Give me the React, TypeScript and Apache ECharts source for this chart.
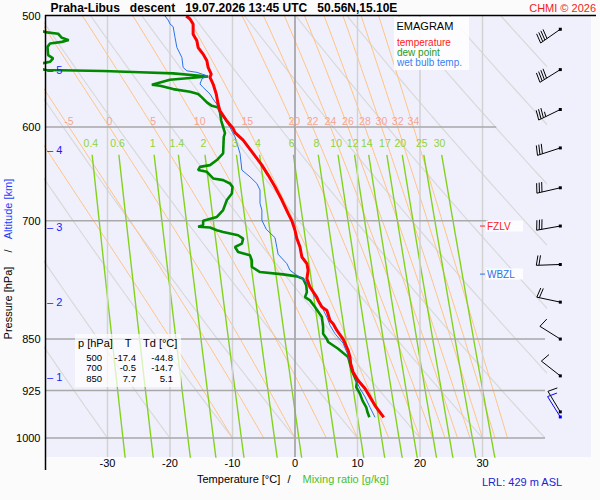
import React, { useEffect, useRef } from "react";
import * as echarts from "echarts";

const FONT = "'Liberation Sans', Arial, Helvetica, sans-serif";

// ---- axis ranges / furniture values ----
const T_MIN = -40;
const T_MAX = 40;
const P_TOP = 500;
const P_BOTTOM = 1031.7;
const TEMP_TICKS = [-30, -20, -10, 0, 10, 20, 30];
const PRESSURE_TICKS = [500, 600, 700, 850, 925, 1000];
const ISOBARS = [600, 700, 850, 925, 1000];
const ISOBAR_RIGHT_T = [32.2, 30.9, 40, 40, 40];
const DRY_THETA = [-30, -20, -10, 0, 10, 20, 30, 40, 50, 60, 70, 80, 90, 100];
const MOIST_THETAW = [-10, -5, 0, 5, 10, 15, 20, 22, 24, 26, 28, 30, 32, 34];
const MIXING_RATIOS = [0.4, 0.6, 1, 1.4, 2, 3, 4, 6, 8, 10, 12, 14, 17, 20, 25, 30];
const MIX_TOP_P = 628;
const MIX_LABEL_P = 615.5;
const MOIST_LABEL_P = 600;
const MOIST_LABEL_TEXT_P = 594;

// ---- sounding: [pressure hPa, value degC] ----
const TEMPERATURE: [number, number][] = [
  [500, -17.4], [502.5, -16.8], [506.6, -16.3], [515.2, -16.3], [520.8, -15.7], [526.6, -15.5],
  [532.3, -14.7], [538.2, -14.1], [544.1, -13.9], [550.0, -13.4], [553.0, -13.6], [559.1, -13.1],
  [568.4, -12.6], [577.9, -12.3], [584.3, -12.0], [594.1, -10.9], [601.5, -9.9], [605.5, -9.6],
  [613.1, -8.3], [626.6, -6.7], [638.8, -5.3], [649.3, -4.3], [661.9, -3.2], [676.5, -2.1],
  [691.5, -1.1], [700, -0.5], [710.9, 0.0], [720.7, 0.3], [730.7, 0.8], [742.8, 1.1],
  [750.9, 1.9], [759.3, 2.1], [769.8, 1.9], [780.6, 2.4], [793.6, 3.5], [797.7, 3.7],
  [806.5, 4.3], [810.9, 5.1], [824.4, 5.6], [828.8, 6.1], [838.0, 6.7], [850, 7.7],
  [866.0, 8.5], [875.6, 8.8], [884.8, 8.9], [897.6, 9.3], [909.9, 10.1], [922.0, 11.2],
  [934.7, 12.0], [948.2, 12.8], [958.7, 13.6], [966.6, 14.2],
];
const DEW_POINT: [number, number][] = [
  [500, -44.8], [510, -42.0], [513.4, -40.0], [514.8, -37.9], [518.2, -37.3], [520.2, -36.2],
  [521.7, -37.3], [523.1, -39.2], [526.0, -39.6], [533.2, -39.5], [536.1, -38.7], [539.1, -39.2],
  [539.6, -39.7], [543, -43.0], [546.4, -39.8], [547.3, -30.7], [548.4, -24.8], [549.4, -19.5],
  [551.5, -15.2], [552.3, -13.9], [553.6, -16.8], [555.2, -20.0], [559.8, -22.9], [560.7, -21.6],
  [563.8, -19.5], [566.3, -16.8], [568.4, -15.5], [571.5, -14.9], [576.2, -14.1], [579.5, -13.3],
  [581.0, -12.3], [585.8, -12.0], [593.9, -11.8], [600, -11.5], [606, -11.2], [610, -11.4],
  [626.6, -11.5], [633.5, -12.5], [638.8, -13.6], [640.6, -15.2], [644.0, -15.5], [645.8, -14.1],
  [652.9, -13.1], [654.7, -11.5], [658.3, -10.4], [662.0, -10.0], [669.3, -10.1], [676.5, -10.9],
  [687.7, -11.5], [695.5, -12.5], [700, -14.7], [705.1, -14.7], [706.8, -15.5], [707.7, -13.6],
  [710.9, -12.5], [712.9, -11.5], [716.8, -9.1], [720.7, -8.3], [726.7, -8.5], [730.7, -9.6],
  [736.8, -9.1], [740.8, -7.2], [746.9, -6.9], [755.1, -6.9], [761.4, -5.6], [764.3, -1.9],
  [766.8, 0.3], [769.8, 1.3], [778.3, 1.8], [786.9, 1.9], [793.4, 1.6], [797.7, 2.4],
  [806.5, 3.2], [819.9, 4.3], [833.5, 4.5], [842.6, 4.5], [850, 5.1], [854.1, 5.3],
  [863.6, 6.9], [875.6, 8.5], [884.8, 8.8], [895.0, 9.1], [912.4, 9.9], [920.0, 9.8],
  [930.1, 10.4], [940.4, 10.8], [950.8, 11.4], [958.7, 11.6], [966.6, 11.9],
];
const WET_BULB: [number, number][] = [
  [500, -20.8], [503.3, -20.3], [506.6, -20.0], [508.8, -19.5], [517.8, -19.2], [526.5, -18.9],
  [535.3, -18.1], [544.1, -17.9], [547.1, -17.3], [548.5, -15.7], [551.5, -14.1], [554.5, -14.9],
  [559.1, -15.2], [562.2, -14.7], [568.4, -13.6], [573.1, -13.1], [577.9, -12.5], [582.7, -12.3],
  [590.7, -11.5], [600.4, -10.4], [609.8, -9.6], [626.6, -8.8], [644.0, -8.5], [651.2, -7.2],
  [658.4, -6.1], [665.5, -5.6], [680.2, -5.6], [687.7, -5.3], [699.3, -5.3], [709.7, -4.6],
  [719.6, -3.2], [731.5, -2.9], [739.5, -2.7], [751.0, -1.3], [759.3, -0.8], [765.5, 0.3],
  [771.9, 1.6], [780.6, 2.4], [793.6, 3.2], [806.5, 4.3], [819.9, 5.1], [831.1, 5.6],
  [842.6, 6.4], [855.9, 7.7], [873.1, 8.5], [884.8, 8.8], [903.9, 9.6], [912.4, 9.9],
  [922.0, 10.4], [934.7, 11.2], [950.8, 12.0], [966.6, 12.8],
];

// ---- winds ----
const WIND_P = [511, 546, 583, 621, 663, 706, 752, 800, 850, 903, 958];
const WIND_DIR = [235, 238, 244, 252, 257, 260, 268, 282, 302, 308, 329];
const WIND_KT = [40, 40, 35, 30, 30, 30, 20, 20, 10, 10, 10];
const SFC_WIND_P = [966];
const SFC_WIND_DIR = [328];
const SFC_WIND_KT = [10];

// ---- levels / table ----
const ALT_KM = [1, 2, 3, 4, 5];
const ALT_P = [904, 800, 707, 623, 546];
const FZLV_P = 706;
const WBZL_P = 764;
const TABLE_P = [500, 700, 850];
const TABLE_T = [-17.4, -0.5, 7.7];
const TABLE_TD = [-44.8, -14.7, 5.1];

const TITLE = "Praha-Libus   descent   19.07.2026 13:45 UTC   50.56N,15.10E";

// ---- thermodynamics for the background lines ----
const Rd = 287.04, Cp = 1005.7, Lv = 2.501e6, EPS = 0.622;
const es = (tc: number) => 6.112 * Math.exp((17.67 * tc) / (tc + 243.5));
function dTdp(TK: number, p: number) {
  const e = es(TK - 273.15);
  const rs = (EPS * e) / (p - e);
  const num = Rd * TK + Lv * rs;
  const den = Cp + (Lv * Lv * rs * EPS) / (Rd * TK * TK);
  return num / den / p;
}
function moistPath(tw: number): [number, number][] {
  const pts: [number, number][] = [[tw, 1000]];
  let T = tw + 273.15;
  let p = 1000;
  const dp = -5;
  while (p > P_TOP + 0.01) {
    const k1 = dTdp(T, p);
    const k2 = dTdp(T + (k1 * dp) / 2, p + dp / 2);
    const k3 = dTdp(T + (k2 * dp) / 2, p + dp / 2);
    const k4 = dTdp(T + k3 * dp, p + dp);
    T += (dp * (k1 + 2 * k2 + 2 * k3 + k4)) / 6;
    p += dp;
    pts.push([T - 273.15, p]);
  }
  return pts;
}
function dryPath(th: number): [number, number][] {
  const pts: [number, number][] = [];
  for (let p = 1000; p >= P_TOP - 0.01; p -= 10) {
    pts.push([(th + 273.15) * Math.pow(p / 1000, 0.2857) - 273.15, p]);
  }
  return pts;
}
function mixT(w: number, p: number) {
  const e = (w * p) / (622 + w);
  const l = Math.log(e / 6.112);
  return (243.5 * l) / (17.67 - l);
}
function mixPath(w: number): [number, number][] {
  const pts: [number, number][] = [];
  for (let p = MIX_TOP_P; p <= P_BOTTOM + 10; p += 10) pts.push([mixT(w, p), Math.min(p, P_BOTTOM + 5)]);
  return pts;
}

const bgLine = (data: any[], color: string, width: number, z = 1) => ({
  type: "line",
  data,
  showSymbol: false,
  silent: true,
  animation: false,
  z,
  lineStyle: { color, width },
  xAxisIndex: 0,
  yAxisIndex: 0,
});

function barbRender(color: string) {
  return (params: any, api: any) => {
    const [sx, sy] = api.coord([api.value(0), api.value(1)]);
    const dir = (api.value(2) * Math.PI) / 180;
    const kt = api.value(3);
    const L = 24;
    const ux = Math.sin(dir), uy = -Math.cos(dir);
    const tx = sx + ux * L, ty = sy + uy * L;
    const px = -uy, py = ux;
    let fx = px - ux * 0.2, fy = py - uy * 0.2;
    const n = Math.hypot(fx, fy);
    fx /= n; fy /= n;
    const st = { stroke: color, lineWidth: 1 };
    const children: any[] = [
      { type: "line", shape: { x1: sx, y1: sy, x2: tx, y2: ty }, style: st },
    ];
    let rem = kt, pos = 0;
    while (rem >= 10) {
      const bx = tx - ux * pos, by = ty - uy * pos;
      children.push({ type: "line", shape: { x1: bx, y1: by, x2: bx + fx * 10, y2: by + fy * 10 }, style: st });
      pos += 2.6; rem -= 10;
    }
    if (rem >= 5) {
      const bx = tx - ux * pos, by = ty - uy * pos;
      children.push({ type: "line", shape: { x1: bx, y1: by, x2: bx + fx * 5, y2: by + fy * 5 }, style: st });
    }
    children.push({ type: "rect", shape: { x: sx - 1.5, y: sy - 1.5, width: 3, height: 3 }, style: { fill: color } });
    return { type: "group", children };
  };
}

const BARB_X = 15.3;

export default function App() {
  const ref = useRef<HTMLDivElement>(null);
  useEffect(() => {
    if (!ref.current) return;
    const chart = echarts.init(ref.current, null, { renderer: "svg" });
    const moist = MOIST_THETAW.map((tw) => moistPath(tw));
    const series: any[] = [];
    DRY_THETA.forEach((th) => series.push(bgLine(dryPath(th), "#d9d9d9", 1.2, 1)));
    moist.forEach((m) => series.push(bgLine(m, "#ffc383", 1, 1)));
    MIXING_RATIOS.forEach((w) => series.push(bgLine(mixPath(w), "#84d21c", 1.4, 2)));
    TEMP_TICKS.forEach((t) =>
      series.push(bgLine([[t, P_TOP], [t, P_BOTTOM]], t === 0 ? "#9a9a9a" : "#d2d2d2", 1.5, 3))
    );
    ISOBARS.forEach((p, i) => series.push(bgLine([[T_MIN, p], [ISOBAR_RIGHT_T[i], p]], "#a9a9a9", 1.5, 3)));
    series.push(bgLine(DEW_POINT.map(([p, t]) => [t, p]), "#008a00", 2.6, 5));
    series.push(bgLine(WET_BULB.map(([p, t]) => [t, p]), "#2a72e8", 1, 6));
    series.push(bgLine(TEMPERATURE.map(([p, t]) => [t, p]), "#ff0000", 3, 7));
    series.push({
      type: "custom",
      xAxisIndex: 1,
      yAxisIndex: 1,
      clip: false,
      silent: true,
      z: 8,
      renderItem: barbRender("#000000"),
      data: WIND_P.map((p, i) => [BARB_X, p, WIND_DIR[i], WIND_KT[i]]),
    });
    series.push({
      type: "custom",
      xAxisIndex: 1,
      yAxisIndex: 1,
      clip: false,
      silent: true,
      z: 9,
      renderItem: barbRender("#0000ff"),
      data: SFC_WIND_P.map((p, i) => [BARB_X, p, SFC_WIND_DIR[i], SFC_WIND_KT[i]]),
    });

    chart.setOption({
      animation: false,
      backgroundColor: "#fbfbfb",
      grid: [
        { left: 45, top: 16, width: 500, height: 441, show: true, backgroundColor: "#f0f0fd", borderWidth: 0 },
        { left: 545, top: 16, width: 46, height: 441, show: true, backgroundColor: "#f0f0fd", borderWidth: 0 },
      ],
      xAxis: [
        { type: "value", min: T_MIN, max: T_MAX, show: false, gridIndex: 0 },
        { type: "value", min: 0, max: 46, show: false, gridIndex: 1 },
      ],
      yAxis: [
        { type: "log", logBase: 10, min: P_TOP, max: P_BOTTOM, inverse: true, show: false, gridIndex: 0 },
        { type: "log", logBase: 10, min: P_TOP, max: P_BOTTOM, inverse: true, show: false, gridIndex: 1 },
      ],
      series,
    });

    const px = (t: number, p: number) => chart.convertToPixel({ gridIndex: 0 }, [t, p]) as number[];
    const g: any[] = [];
    const txt = (x: number, y: number, text: string, o: any = {}) =>
      g.push({
        type: "text",
        x,
        y,
        z: 100,
        rotation: o.rotation || 0,
        silent: true,
        style: {
          text,
          fill: o.fill || "#000",
          fontSize: o.size || 11,
          fontFamily: FONT,
          fontWeight: o.weight || "normal",
          align: o.align || "left",
          verticalAlign: "middle",
          lineHeight: o.lh,
        },
      });
    const rect = (x: number, y: number, w: number, h: number, fill: string) =>
      g.push({ type: "rect", z: 99, silent: true, shape: { x, y, width: w, height: h }, style: { fill } });
    const line = (x1: number, y1: number, x2: number, y2: number, stroke: string, lw: number) =>
      g.push({ type: "line", z: 100, silent: true, shape: { x1, y1, x2, y2 }, style: { stroke, lineWidth: lw } });

    // frame
    line(45, 15.5, 596, 15.5, "#000", 1.5);
    line(45.5, 15, 45.5, 470, "#000", 1.5);
    // title
    txt(50.5, 7.5, TITLE, { weight: "bold", size: 12 });
    txt(596, 7.5, "CHMI © 2026", { fill: "#f01c1c", align: "right", size: 11 });
    // y labels
    PRESSURE_TICKS.forEach((p) => {
      const [, y] = px(T_MIN, p);
      txt(40.5, y, String(p), { align: "right" });
    });
    // x labels
    TEMP_TICKS.forEach((t) => {
      const [x] = px(t, P_BOTTOM);
      txt(x, 462.5, String(t), { align: "center" });
    });
    // axis titles
    txt(197, 479, "Temperature [°C]");
    txt(289, 479, "/", { align: "center" });
    txt(302.5, 479, "Mixing ratio [g/kg]", { fill: "#4cbf2a" });
    txt(8, 303, "Pressure [hPa]", { align: "center", rotation: Math.PI / 2 });
    txt(8, 251, "/", { align: "center", rotation: Math.PI / 2 });
    txt(8, 209, "Altitude [km]", { align: "center", rotation: Math.PI / 2, fill: "#1f3cff" });
    txt(482, 482, "LRL: 429 m ASL", { fill: "#2323d4" });

    // moist adiabat labels
    MOIST_THETAW.forEach((tw, i) => {
      const pt = moist[i].find((q) => Math.abs(q[1] - MOIST_LABEL_P) < 0.01);
      if (!pt || pt[0] < T_MIN + 1) return;
      const [x] = px(pt[0], MOIST_LABEL_P);
      const [, y] = px(pt[0], MOIST_LABEL_TEXT_P);
      txt(x, y, String(tw), { align: "center", fill: "#f7a493", size: 10.5 });
    });
    // mixing ratio labels
    MIXING_RATIOS.forEach((w) => {
      const [x, y] = px(mixT(w, MIX_LABEL_P), MIX_LABEL_P);
      txt(x, y, String(w), { align: "center", fill: "#8fd33c", size: 10.5 });
    });
    // altitude labels
    ALT_KM.forEach((km, i) => {
      const [, y] = px(T_MIN, ALT_P[i]);
      txt(47, y, "– " + km, { fill: "#1a1aff" });
    });
    // FZLV / WBZL
    {
      const [, y] = px(0, FZLV_P);
      rect(486, y - 5.5, 37, 11, "rgba(255,255,255,0.85)");
      line(480, y, 485, y, "#ff2020", 1);
      txt(487, y, "FZLV", { fill: "#ff2020", size: 10 });
    }
    {
      const [, y] = px(0, WBZL_P);
      rect(486, y - 5.5, 37, 11, "rgba(255,255,255,0.85)");
      line(480, y, 485, y, "#2a72e8", 1);
      txt(487, y, "WBZL", { fill: "#2a72e8", size: 10 });
    }
    // legend
    rect(394, 17, 75, 53, "rgba(255,255,255,0.85)");
    txt(396.5, 26, "EMAGRAM", { size: 11 });
    txt(397, 42, "temperature", { fill: "#ff1a1a", size: 10, lh: 9.5 });
    txt(397, 52, "dew point", { fill: "#1f9a1f", size: 10, lh: 9.5 });
    txt(397, 62, "wet bulb temp.", { fill: "#3a80f0", size: 10, lh: 9.5 });
    // table
    rect(75, 334, 106, 53, "rgba(255,255,255,0.7)");
    txt(78, 343, "p [hPa]", { lh: 11 });
    txt(128, 343, "T", { align: "center", lh: 11 });
    txt(143, 343, "Td [°C]", { lh: 11 });
    TABLE_P.forEach((p, i) => {
      const y = 357.5 + i * 10.4;
      const o = { align: "right", size: 9.5, lh: 9.5 };
      txt(102, y, String(p), o);
      txt(136, y, TABLE_T[i].toFixed(1), o);
      txt(173, y, TABLE_TD[i].toFixed(1), o);
    });

    chart.setOption({ graphic: g });
    return () => chart.dispose();
  }, []);
  return (
    <div
      ref={ref}
      style={{ position: "fixed", left: 0, top: 0, width: 600, height: 500, background: "#fbfbfb" }}
    />
  );
}
